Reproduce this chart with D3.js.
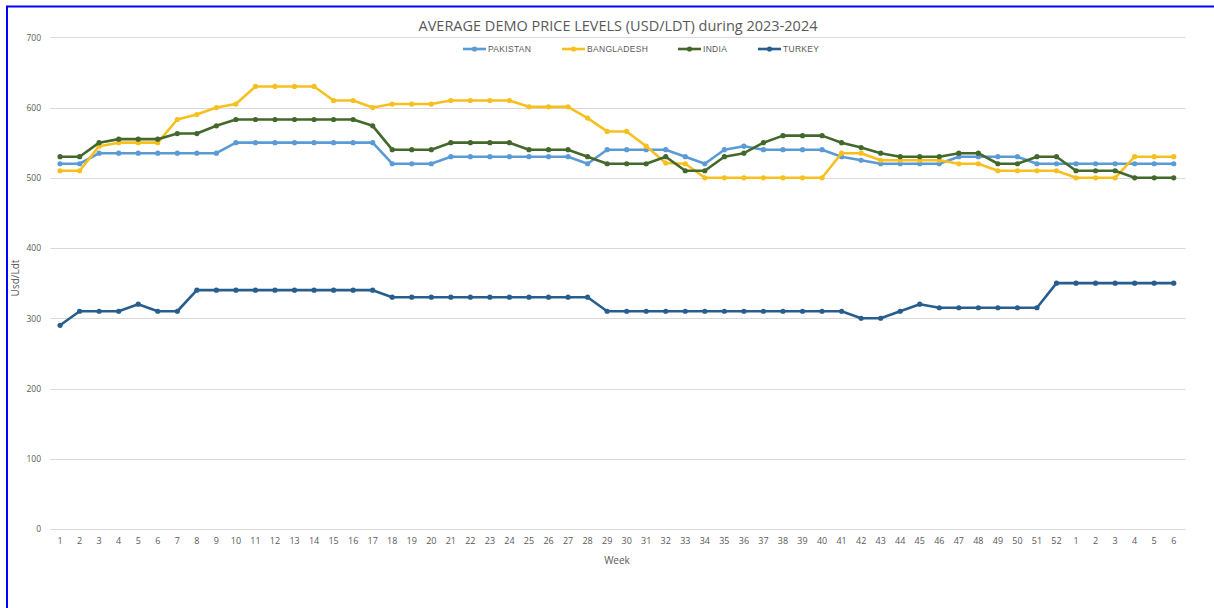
<!DOCTYPE html>
<html>
<head>
<meta charset="utf-8">
<script src="https://cdn.jsdelivr.net/npm/d3@7"></script>
<style>
  html, body { margin: 0; padding: 0; background: #fff; }
  svg { display: block; }
</style>
</head>
<body>
<svg id="chart" width="1214" height="608"></svg>
<script>
// Week labels: 2023 weeks 1-52 followed by 2024 weeks 1-6
const weekLabels = [
  "1","2","3","4","5","6","7","8","9","10","11","12","13","14","15","16","17","18","19","20",
  "21","22","23","24","25","26","27","28","29","30","31","32","33","34","35","36","37","38","39","40",
  "41","42","43","44","45","46","47","48","49","50","51","52","1","2","3","4","5","6"
];

const pakistan = [
  520,520,535,535,535,535,535,535,535,550,550,550,550,550,550,550,550,520,520,520,
  530,530,530,530,530,530,530,520,540,540,540,540,530,520,540,545,540,540,540,540,
  530,525,520,520,520,520,530,530,530,530,520,520,520,520,520,520,520,520
];

const bangladesh = [
  510,510,545,550,550,550,583,590,600,605,630,630,630,630,610,610,600,605,605,605,
  610,610,610,610,601,601,601,585,566,566,545,521,520,500,500,500,500,500,500,500,
  535,535,525,525,525,525,520,520,510,510,510,510,500,500,500,530,530,530
];

const india = [
  530,530,550,555,555,555,563,563,574,583,583,583,583,583,583,583,574,540,540,540,
  550,550,550,550,540,540,540,530,520,520,520,530,510,510,530,535,550,560,560,560,
  550,543,535,530,530,530,535,535,520,520,530,530,510,510,510,500,500,500
];

const turkey = [
  290,310,310,310,320,310,310,340,340,340,340,340,340,340,340,340,340,330,330,330,
  330,330,330,330,330,330,330,330,310,310,310,310,310,310,310,310,310,310,310,310,
  310,300,300,310,320,315,315,315,315,315,315,350,350,350,350,350,350,350
];

const seriesNames = ["PAKISTAN", "BANGLADESH", "INDIA", "TURKEY"];
const seriesColors = ["#5B9BD5", "#F7C01F", "#43682B", "#275E8E"];
const seriesValues = [pakistan, bangladesh, india, turkey];

const yTicks = [0, 100, 200, 300, 400, 500, 600, 700];

const svg = d3.select("#chart");
const W = 1214, H = 608;
const plot = { left: 50.3, right: 1183.5, top: 37.3, bottom: 529 };
const labelFont = "'Open Sans', 'Liberation Sans', sans-serif";

// Frame: blue rules along the top and left edges
svg.append("rect").attr("x", 0).attr("y", 0).attr("width", W).attr("height", H).attr("fill", "#fff");
svg.append("line").attr("x1", 6).attr("x2", W).attr("y1", 6.5).attr("y2", 6.5)
  .attr("stroke", "#0000ff").attr("stroke-width", 2);
svg.append("line").attr("x1", 7).attr("x2", 7).attr("y1", 6).attr("y2", H)
  .attr("stroke", "#0000ff").attr("stroke-width", 2);

// Scales: each week is one category band, points at band centres
const x = d3.scaleBand()
  .domain(d3.range(weekLabels.length))
  .range([plot.left, plot.right])
  .paddingInner(0).paddingOuter(0);
const xc = i => x(i) + x.bandwidth() / 2;

const y = d3.scaleLinear().domain([0, 700]).range([plot.bottom, plot.top]);

// Horizontal gridlines
svg.append("g")
  .selectAll("line")
  .data(yTicks)
  .join("line")
  .attr("x1", plot.left)
  .attr("x2", plot.right + 2)
  .attr("y1", d => Math.round(y(d)) + 0.5)
  .attr("y2", d => Math.round(y(d)) + 0.5)
  .attr("stroke", "#d9d9d9")
  .attr("stroke-width", 1);

// Y axis labels
const yAxis = d3.axisLeft(y).tickValues(yTicks).tickSize(0).tickPadding(0);
const gy = svg.append("g").attr("transform", `translate(41,0)`).call(yAxis);
gy.select(".domain").remove();
gy.selectAll("text")
  .attr("fill", "#595959")
  .style("font-family", labelFont)
  .style("font-size", "8.5px");

// X axis labels
const xAxis = d3.axisBottom(x).tickFormat(i => weekLabels[i]).tickSize(0).tickPadding(0);
const gx = svg.append("g").attr("transform", `translate(0,${plot.bottom + 9})`).call(xAxis);
gx.select(".domain").remove();
gx.selectAll("text")
  .attr("fill", "#595959")
  .style("font-family", labelFont)
  .style("font-size", "9px");

// Axis titles
svg.append("text")
  .attr("x", 617).attr("y", 564)
  .attr("text-anchor", "middle")
  .attr("fill", "#595959")
  .style("font-family", labelFont)
  .style("font-size", "10px")
  .text("Week");

svg.append("text")
  .attr("transform", "translate(19,278) rotate(-90)")
  .attr("text-anchor", "middle")
  .attr("fill", "#595959")
  .style("font-family", labelFont)
  .style("font-size", "10px")
  .text("Usd/Ldt");

// Chart title
svg.append("text")
  .attr("x", 618).attr("y", 31)
  .attr("text-anchor", "middle")
  .attr("fill", "#595959")
  .style("font-family", labelFont)
  .style("font-size", "14.5px")
  .text("AVERAGE DEMO PRICE LEVELS (USD/LDT) during 2023-2024");

// Series lines with round markers
const line = d3.line()
  .x((d, i) => xc(i))
  .y(d => y(d));

seriesValues.forEach((vals, s) => {
  const g = svg.append("g");
  g.append("path")
    .datum(vals)
    .attr("d", line)
    .attr("fill", "none")
    .attr("stroke", seriesColors[s])
    .attr("stroke-width", 2.6)
    .attr("stroke-linejoin", "round");
  g.selectAll("circle")
    .data(vals)
    .join("circle")
    .attr("cx", (d, i) => xc(i))
    .attr("cy", d => y(d))
    .attr("r", 2.6)
    .attr("fill", seriesColors[s]);
});

// Legend
const legendX = [463, 562, 678, 758];
const legend = svg.append("g");
seriesNames.forEach((name, s) => {
  const lx = legendX[s], ly = 49;
  legend.append("line")
    .attr("x1", lx).attr("x2", lx + 23)
    .attr("y1", ly).attr("y2", ly)
    .attr("stroke", seriesColors[s]).attr("stroke-width", 2.6);
  legend.append("circle")
    .attr("cx", lx + 11.5).attr("cy", ly).attr("r", 2.6)
    .attr("fill", seriesColors[s]);
  legend.append("text")
    .attr("x", lx + 25).attr("y", ly + 3)
    .attr("fill", "#595959")
    .style("font-family", "'Liberation Sans', Arial, sans-serif")
    .style("font-size", "8.5px")
    .style("letter-spacing", "0.3px")
    .text(name);
});
</script>
</body>
</html>
